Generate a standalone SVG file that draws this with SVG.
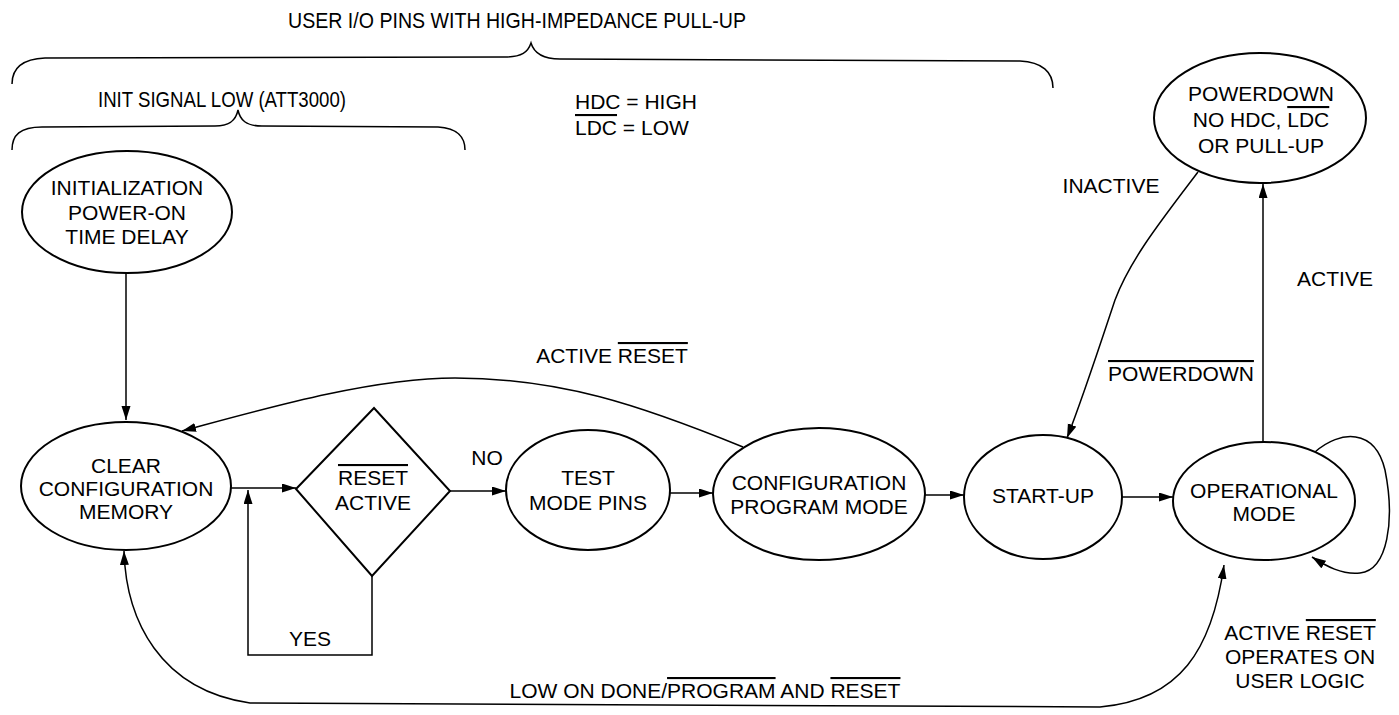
<svg xmlns="http://www.w3.org/2000/svg" width="1399" height="715" viewBox="0 0 1399 715">
<style>
text{font-family:"Liberation Sans",Arial,sans-serif;font-size:21px;fill:#000;text-anchor:middle}
.sm{font-size:22px}
.ol{text-decoration:overline}
.node{fill:#fff;stroke:#000;stroke-width:2}
.c{fill:none;stroke:#000;stroke-width:1.5}
</style>
<defs>
<marker id="ah" markerUnits="userSpaceOnUse" markerWidth="16" markerHeight="10" refX="14" refY="4.5" orient="auto-start-reverse"><path d="M0,0 L14,4.5 L0,9 z" fill="#000"/></marker>
</defs>
<rect width="1399" height="715" fill="#fff"/>
<g id="annotations">
<text class="sm" x="517" y="28" textLength="458" lengthAdjust="spacingAndGlyphs">USER I/O PINS WITH HIGH-IMPEDANCE PULL-UP</text>
<path class="c" d="M12,84 C12,68 22,59 45,58 L505,57 C522,57 528,52 531,43 C534,53 542,59 560,59 L1020,61 C1042,62 1053,72 1053,88"/>
<text class="sm" x="222" y="107" textLength="248" lengthAdjust="spacingAndGlyphs">INIT SIGNAL LOW (ATT3000)</text>
<path class="c" d="M12,150 C12,135 20,127 42,127 L215,126 C230,126 236,120 238,110 C240,120 246,126 262,126 L438,127 C458,128 465,138 465,150"/>
<text x="575" y="109" style="text-anchor:start">HDC = HIGH</text>
<text x="575" y="135" style="text-anchor:start"><tspan class="ol">LDC</tspan> = LOW</text>
</g>
<g id="n-init"><ellipse class="node" cx="127" cy="212" rx="105" ry="61"/>
<text x="127" y="195">INITIALIZATION</text><text x="127" y="220">POWER-ON</text><text x="127" y="244">TIME DELAY</text></g>
<g id="n-clear"><ellipse class="node" cx="126" cy="486" rx="105" ry="64"/>
<text x="126" y="473">CLEAR</text><text x="126" y="496">CONFIGURATION</text><text x="126" y="519">MEMORY</text></g>
<g id="n-reset"><path class="node" d="M296,489 L374,408 L450,491 L372,576 Z"/>
<text x="373" y="485" class="ol">RESET</text><text x="373" y="510">ACTIVE</text></g>
<g id="n-test"><ellipse class="node" cx="588" cy="490" rx="82" ry="60"/>
<text x="588" y="485">TEST</text><text x="588" y="510">MODE PINS</text></g>
<g id="n-config"><ellipse class="node" cx="819" cy="494" rx="106" ry="66"/>
<text x="819" y="490">CONFIGURATION</text><text x="819" y="514">PROGRAM MODE</text></g>
<g id="n-startup"><ellipse class="node" cx="1043" cy="497" rx="79" ry="62"/>
<text x="1043" y="503">START-UP</text></g>
<g id="n-oper"><ellipse class="node" cx="1264" cy="501" rx="91" ry="59"/>
<text x="1264" y="498">OPERATIONAL</text><text x="1264" y="521">MODE</text></g>
<g id="n-power"><ellipse class="node" cx="1260" cy="118" rx="106" ry="65"/>
<text x="1261" y="101">POWERDOWN</text><text x="1261" y="127">NO HDC, <tspan class="ol">LDC</tspan></text><text x="1261" y="153">OR PULL-UP</text></g>
<g id="connectors">
<path class="c" d="M126,273 L126,420" marker-end="url(#ah)"/>
<path class="c" d="M231,488 L296,488" marker-end="url(#ah)"/>
<path class="c" d="M372,576 L372,655 L248,655 L248,490" marker-end="url(#ah)"/>
<path class="c" d="M450,491 L506,491" marker-end="url(#ah)"/>
<path class="c" d="M670,493 L713,493" marker-end="url(#ah)"/>
<path class="c" d="M925,495 L964,495" marker-end="url(#ah)"/>
<path class="c" d="M1122,497 L1173,497" marker-end="url(#ah)"/>
<path class="c" d="M743,447 C640,405 560,378 455,378 C370,378 260,410 182,431" marker-end="url(#ah)"/>
<path class="c" d="M1263,442 L1263,184" marker-end="url(#ah)"/>
<path class="c" d="M1198,172 C1160,222 1130,260 1115,300 C1100,345 1082,400 1067,438" marker-end="url(#ah)"/>
<path class="c" d="M1315,452 C1340,430 1375,428 1385,470 C1395,520 1388,570 1360,573 C1342,575 1326,566 1312,557" marker-end="url(#ah)"/>
<path class="c" d="M124,551 C126,620 160,690 250,703 L1100,707 C1180,700 1212,650 1224,565" marker-start="url(#ah)" marker-end="url(#ah)"/>
</g>
<g id="labels">
<text x="612" y="363">ACTIVE <tspan class="ol">RESET</tspan></text>
<text x="487" y="465">NO</text>
<text x="310" y="646">YES</text>
<text x="1111" y="193">INACTIVE</text>
<text x="1335" y="286">ACTIVE</text>
<text x="1181" y="381" class="ol">POWERDOWN</text>
<text x="705" y="698">LOW ON DONE/<tspan class="ol">PROGRAM</tspan> AND <tspan class="ol">RESET</tspan></text>
<text x="1300" y="640">ACTIVE <tspan class="ol">RESET</tspan></text>
<text x="1300" y="664">OPERATES ON</text>
<text x="1300" y="688">USER LOGIC</text>
</g>
</svg>
